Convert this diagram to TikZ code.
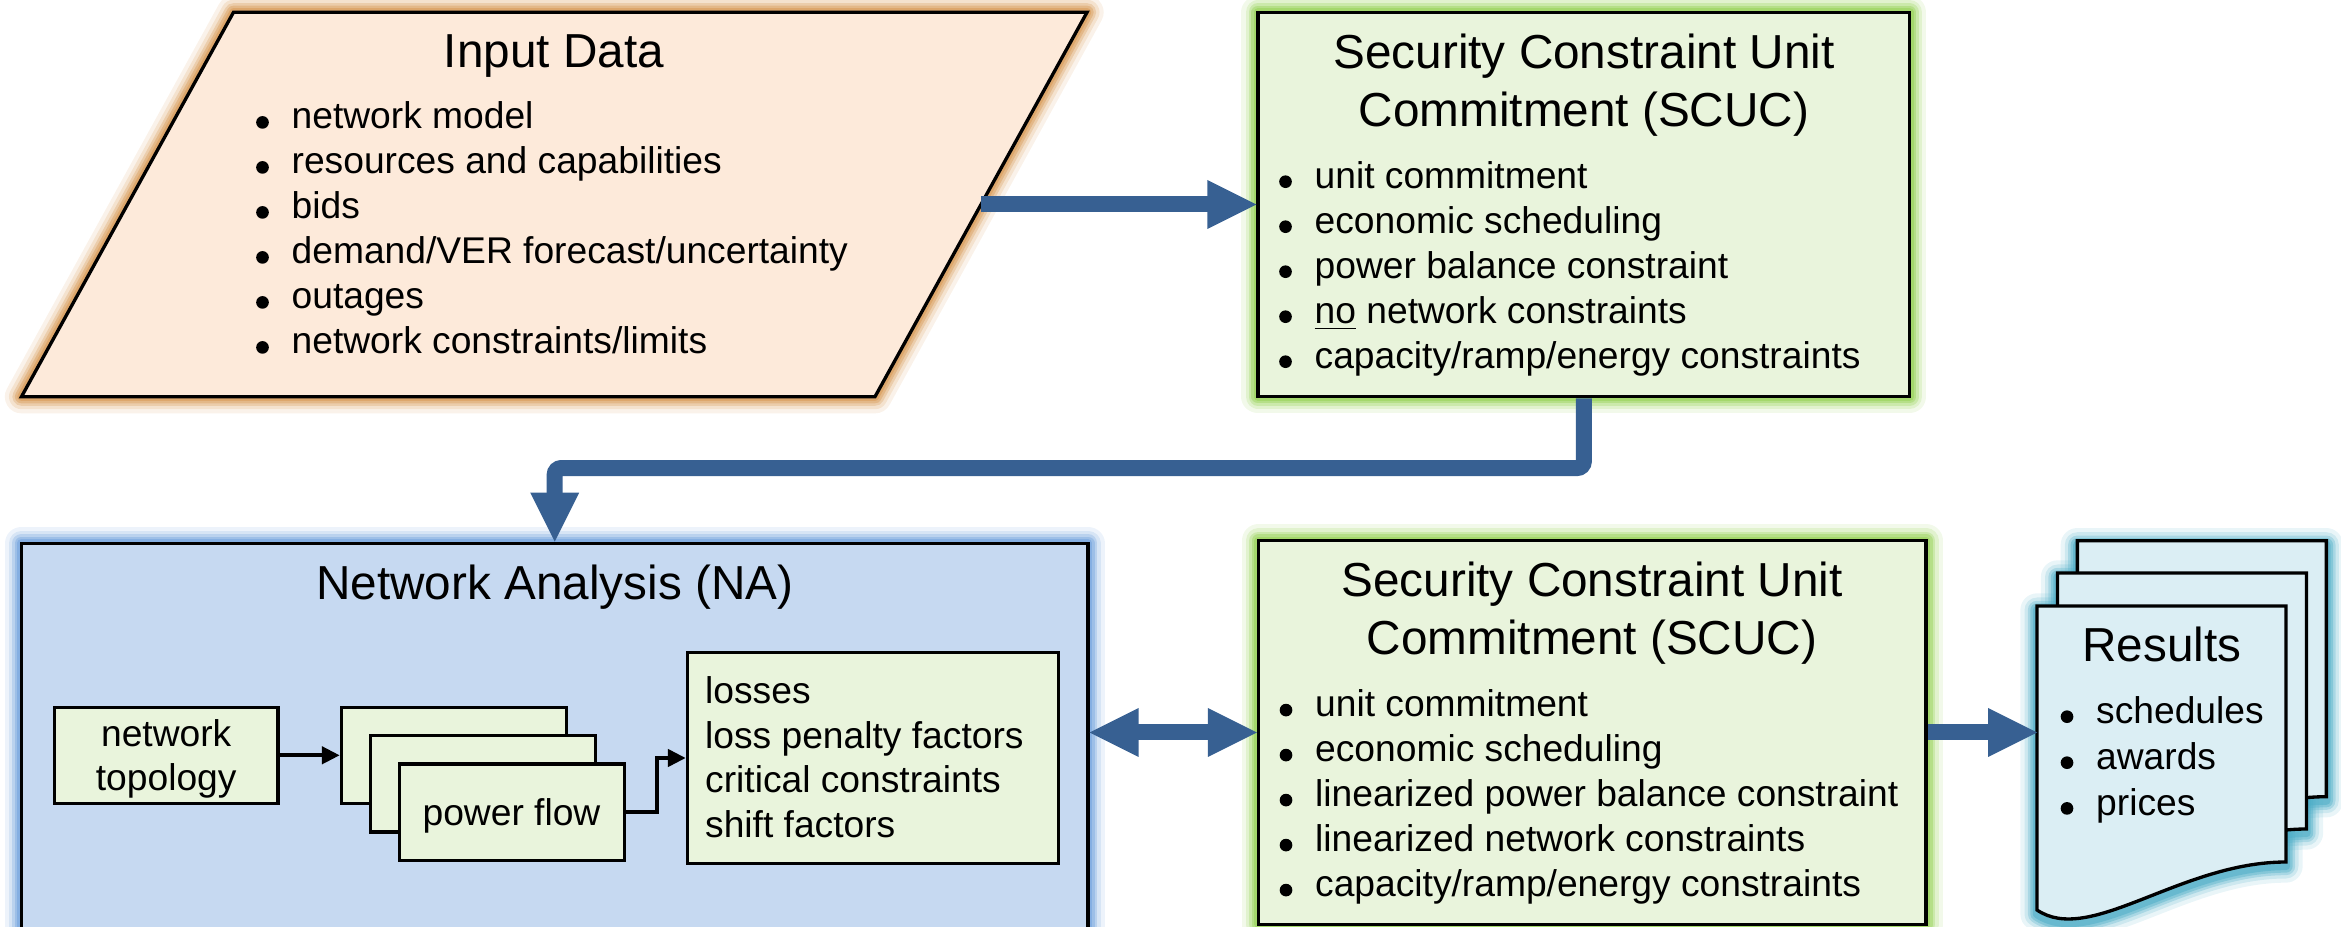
\documentclass[tikz,border=0pt]{standalone}
\usepackage{fontspec}
\setmainfont{Liberation Sans}
\usetikzlibrary{arrows.meta,calc,fit}

\definecolor{inFill}{RGB}{253,234,218}
\definecolor{inGlow}{RGB}{214,150,80}
\definecolor{gFill}{RGB}{233,244,220}
\definecolor{gGlow}{RGB}{146,208,80}
\definecolor{naFill}{RGB}{198,217,241}
\definecolor{naGlow}{RGB}{110,160,220}
\definecolor{resFill}{RGB}{219,238,244}
\definecolor{resGlow}{RGB}{75,172,198}
\definecolor{flowBlue}{RGB}{55,96,146}

\newcommand\bodysize{\fontsize{11.16pt}{13.5pt}\selectfont}
\newcommand\titlesize{\fontsize{14.31pt}{17.5pt}\selectfont}

% soft coloured halo under a shape
\newcommand\halo[2]{%
  \foreach \w/\o in {10pt/0.12,7.5pt/0.18,5.5pt/0.28,4pt/0.38,2.5pt/0.5}{%
    \draw[draw=#1,line width=\w,opacity=\o,line join=round,yshift=-1.2pt] #2;}}

% one sheet of the results stack, top-left corner at (#1,#2)
\newcommand\sheet[2]{({#1},{#2}) -- ({#1+249},{#2}) -- ({#1+249},{#2+256})
  .. controls ({#1+143},{#2+256}) and ({#1+53},{#2+340}) .. ({#1},{#2+304}) -- cycle}

% bulleted line: text node plus its round bullet
\newcommand\bitem[4]{%
  \node[itemtext] (#1) at (#2,#3) {#4};
  \fill ($(#1.base west)+(-28.5,-6.6)$) circle (1.9pt);}

% block arrow heads (tip at the given point)
\newcommand\headR[1]{\fill[flowBlue] ($(#1)+(-49,-24.5)$) -- (#1) -- ($(#1)+(-49,24.5)$) -- cycle;}
\newcommand\headL[1]{\fill[flowBlue] ($(#1)+(49,-24.5)$) -- (#1) -- ($(#1)+(49,24.5)$) -- cycle;}
\newcommand\headD[1]{\fill[flowBlue] ($(#1)+(-24.5,-49)$) -- (#1) -- ($(#1)+(24.5,-49)$) -- cycle;}

\tikzset{
  boxframe/.style={draw=black,line width=1pt,inner sep=0pt},
  itemtext/.style={inner sep=0pt,anchor=base west,font=\bodysize},
  plaintext/.style={inner sep=0pt,anchor=base,font=\bodysize},
  headtext/.style={inner sep=0pt,anchor=base,font=\titlesize},
  bandline/.style={draw=flowBlue,line width=4.8pt},
  linkarrow/.style={draw=black,line width=1.3pt,-{Triangle[length=5.4pt,width=5.1pt]}},
}

\begin{document}
\begin{tikzpicture}[x=0.3pt,y=-0.3pt]
\useasboundingbox (0,0) rectangle (2341,927);
\clip (0,0) rectangle (2341,927);

% outlines
\coordinate (inTL) at (233.5,12.3);
\coordinate (inTR) at (1087,12.3);
\coordinate (inBR) at (875,396.7);
\coordinate (inBL) at (21.5,396.7);
\coordinate (s1a) at (1258,12.3);    \coordinate (s1b) at (1909.6,396.7);
\coordinate (s2a) at (1258.5,540.7); \coordinate (s2b) at (1926,924.3);
\coordinate (naa) at (21.4,543.3);   \coordinate (nab) at (1088,990);

% halos
\halo{inGlow}{(inTL) -- (inTR) -- (inBR) -- (inBL) -- cycle}
\halo{gGlow}{(s1a) rectangle (s1b)}
\halo{gGlow}{(s2a) rectangle (s2b)}
\halo{naGlow}{(naa) rectangle (nab)}
\halo{resGlow}{\sheet{2077.3}{540.7}}
\halo{resGlow}{\sheet{2057.5}{573}}
\halo{resGlow}{\sheet{2037}{606}}

% main shapes
\draw[fill=inFill,line width=1pt] (inTL) -- (inTR) -- (inBR) -- (inBL) -- cycle;
\coordinate (inR) at ($(inTR)!0.5!(inBR)$);
\node[boxframe,fill=gFill,fit=(s1a)(s1b)] (scuc1) {};
\node[boxframe,fill=gFill,fit=(s2a)(s2b)] (scuc2) {};
\node[boxframe,fill=naFill,fit=(naa)(nab)] (na) {};

\draw[fill=resFill,line width=1pt] \sheet{2077.3}{540.7};
\draw[fill=resFill,line width=1pt] \sheet{2057.5}{573};
\draw[fill=resFill,line width=1pt] \sheet{2037}{606};
\coordinate (resL) at (2037,606);

% boxes inside the network analysis
\node[boxframe,fill=gFill,fit={(54.3,707.3) (278,803.3)}] (topo) {};
\node[boxframe,fill=gFill,fit={(341.5,707.3) (566.5,803.8)}] (st1) {};
\node[boxframe,fill=gFill,fit={(370.5,735.6) (595.5,832.1)}] (st2) {};
\node[boxframe,fill=gFill,fit={(399.5,764) (624.5,860.5)}] (st3) {};
\node[boxframe,fill=gFill,fit={(687.5,652.7) (1058.6,863.3)}] (out) {};

% input data
\node[headtext] (inT) at (554,68) {Input Data};
\bitem{in0}{291}{129}{network model}
\bitem{in1}{291}{174}{resources and capabilities}
\bitem{in2}{291}{219}{bids}
\bitem{in3}{291}{264}{demand/VER forecast/uncertainty}
\bitem{in4}{291}{309}{outages}
\bitem{in5}{291}{354}{network constraints/limits}

% first SCUC
\node[headtext] (s1t1) at (1584,68.3) {Security Constraint Unit};
\node[headtext] (s1t2) at (1584,126.7) {Commitment (SCUC)};
\bitem{s1i0}{1314}{188.3}{unit commitment}
\bitem{s1i1}{1314}{233.3}{economic scheduling}
\bitem{s1i2}{1314}{278.3}{power balance constraint}
\bitem{s1i3}{1314}{323.3}{\underline{no} network constraints}
\bitem{s1i4}{1314}{368.3}{capacity/ramp/energy constraints}

% second SCUC
\node[headtext] (s2t1) at (1592,596.7) {Security Constraint Unit};
\node[headtext] (s2t2) at (1592,655) {Commitment (SCUC)};
\bitem{s2i0}{1314.5}{716.7}{unit commitment}
\bitem{s2i1}{1314.5}{761.7}{economic scheduling}
\bitem{s2i2}{1314.5}{806.7}{linearized power balance constraint}
\bitem{s2i3}{1314.5}{851.7}{linearized network constraints}
\bitem{s2i4}{1314.5}{896.7}{capacity/ramp/energy constraints}

% network analysis
\node[headtext] (naT) at (554.7,600) {Network Analysis (NA)};
\node[plaintext] (topoA) at (166.2,746.5) {network};
\node[plaintext] (topoB) at (166.2,790.5) {topology};
\node[plaintext] (pf) at (511.5,825) {power flow};
\node[itemtext] (o0) at (704.5,703.5) {losses};
\node[itemtext] (o1) at (704.5,748) {loss penalty factors};
\node[itemtext] (o2) at (704.5,792.5) {critical constraints};
\node[itemtext] (o3) at (704.5,837) {shift factors};

% results
\node[headtext] (resT) at (2162,661.7) {Results};
\bitem{r0}{2095.5}{723.3}{schedules}
\bitem{r1}{2095.5}{769.3}{awards}
\bitem{r2}{2095.5}{815}{prices}

% links inside the network analysis
\draw[linkarrow] (topo.east) -- (topo.east -| st1.west);
\draw[linkarrow] (st3.east) -- ++(31,0) |- (out.west);

% block arrows between stages
\draw[bandline] (inR) -- ($(scuc1.west)+(-48,0)$);
\headR{scuc1.west}

\draw[bandline,rounded corners=2pt] (scuc1.south) |- ($(na.north)+(0,-73.6)$) -- ($(na.north)+(0,-48)$);
\headD{na.north}

\coordinate (naR) at (na.east |- scuc2.west);
\draw[bandline] ($(naR)+(48,0)$) -- ($(scuc2.west)+(-48,0)$);
\headL{naR}
\headR{scuc2.west}

\coordinate (resIn) at (scuc2.east -| resL);
\draw[bandline] (scuc2.east) -- ($(resIn)+(-48,0)$);
\headR{resIn}
\end{tikzpicture}
\end{document}
